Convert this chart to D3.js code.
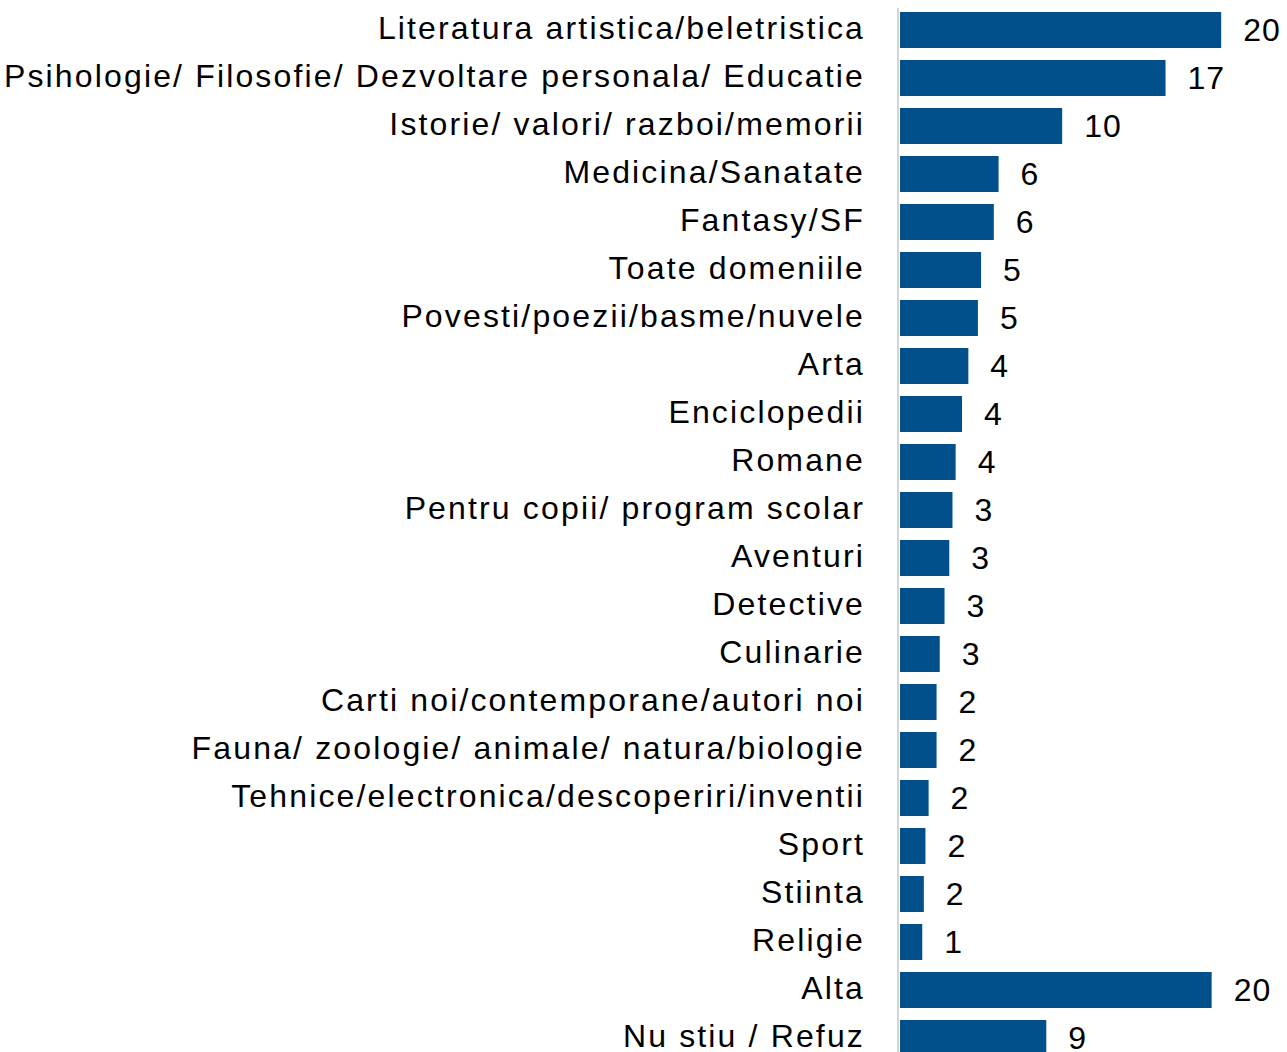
<!DOCTYPE html>
<html>
<head>
<meta charset="utf-8">
<script src="https://cdn.jsdelivr.net/npm/d3@7/dist/d3.min.js"></script>
<style>
  html, body { margin: 0; padding: 0; background: #ffffff; }
  svg { display: block; }
  text { font-family: "Liberation Sans", Arial, sans-serif; fill: #000000; }
</style>
</head>
<body>
<svg id="chart" width="1287" height="1052"></svg>
<script>
// Book genres preferred by respondents (%)
const categories = [
  "Literatura artistica/beletristica",
  "Psihologie/ Filosofie/ Dezvoltare personala/ Educatie",
  "Istorie/ valori/ razboi/memorii",
  "Medicina/Sanatate",
  "Fantasy/SF",
  "Toate domeniile",
  "Povesti/poezii/basme/nuvele",
  "Arta",
  "Enciclopedii",
  "Romane",
  "Pentru copii/ program scolar",
  "Aventuri",
  "Detective",
  "Culinarie",
  "Carti noi/contemporane/autori noi",
  "Fauna/ zoologie/ animale/ natura/biologie",
  "Tehnice/electronica/descoperiri/inventii",
  "Sport",
  "Stiinta",
  "Religie",
  "Alta",
  "Nu stiu / Refuz"
];

const values = [
  20.2, 16.7, 10.2, 6.2, 5.9, 5.1, 4.9, 4.3, 3.9, 3.5, 3.3,
  3.1, 2.8, 2.5, 2.3, 2.3, 1.8, 1.6, 1.5, 1.4, 19.6, 9.2
];

const data = categories.map((c, i) => ({ category: c, value: values[i] }));

const svg = d3.select("#chart");
const barColor = "#01508b";

const x = d3.scaleLinear()
  .domain([0, 20])
  .range([900, 1218]);

const y = d3.scaleBand()
  .domain(categories)
  .range([6, 6 + categories.length * 48])
  .paddingInner(0.25)
  .paddingOuter(0.125);

// bars
svg.append("g")
  .selectAll("rect")
  .data(data)
  .join("rect")
  .attr("x", x(0))
  .attr("y", d => y(d.category))
  .attr("width", d => x(d.value) - x(0))
  .attr("height", y.bandwidth())
  .attr("fill", barColor);

// category axis
const axis = svg.append("g")
  .attr("transform", "translate(898,0)")
  .call(d3.axisLeft(y).tickSize(0).tickPadding(33));

axis.select(".domain")
  .attr("stroke", "#d4d4d4")
  .attr("stroke-width", 2)
  .attr("d", `M0,8V1052`);

axis.selectAll(".tick text")
  .attr("font-family", "\"Liberation Sans\", Arial, sans-serif")
  .attr("font-size", 32)
  .attr("letter-spacing", 2.15)
  .attr("fill", "#000")
  .attr("dy", "0.27em");

// value labels
svg.append("g")
  .selectAll("text")
  .data(data)
  .join("text")
  .attr("x", d => x(d.value) + 22)
  .attr("y", d => y(d.category) + y.bandwidth() / 2)
  .attr("dy", "0.33em")
  .attr("font-size", 32)
  .attr("letter-spacing", 1)
  .text(d => d3.format(".0f")(d.value));
</script>
</body>
</html>
